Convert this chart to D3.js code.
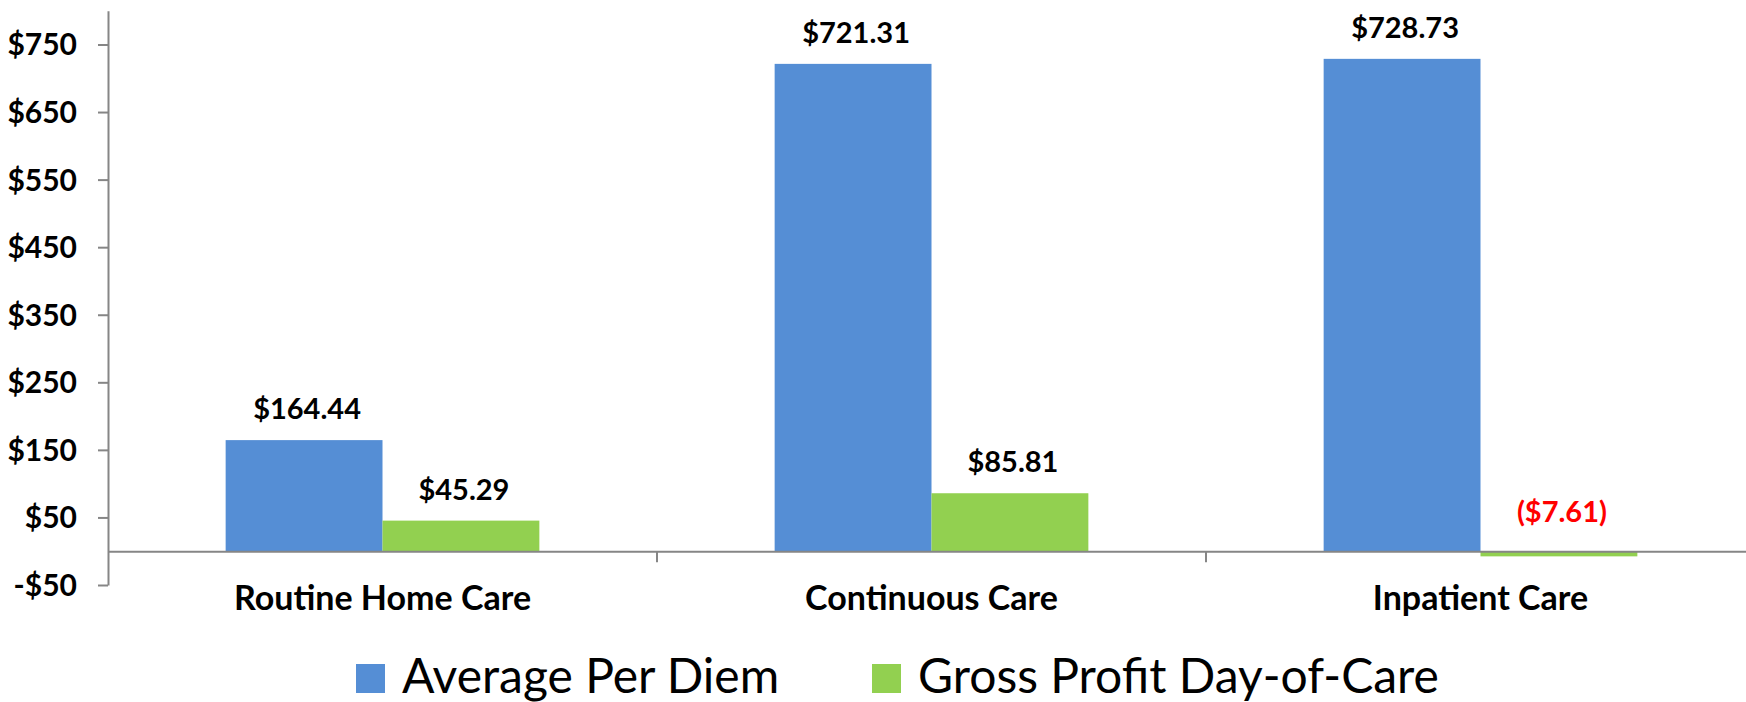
<!DOCTYPE html>
<html>
<head>
<meta charset="utf-8">
<script src="https://cdn.jsdelivr.net/npm/d3@7"></script>
<style>
  body { margin: 0; background: #fff; }
  svg { display: block; font-family: Lato, "Open Sans", sans-serif; }
</style>
</head>
<body>
<div class="svg-div"></div>
<script>
const categories = ["Routine Home Care", "Continuous Care", "Inpatient Care"];
const seriesNames = ["Average Per Diem", "Gross Profit Day-of-Care"];
const avgPerDiem = [164.44, 721.31, 728.73];
const grossProfit = [45.29, 85.81, -7.61];
const yTicks = [-50, 50, 150, 250, 350, 450, 550, 650, 750];
const colors = ["#558ed5", "#92d050"];

let svgWidth = 1746, svgHeight = 702;
let font = "Lato, 'Open Sans', sans-serif";

let svg = d3.select(".svg-div").append("svg")
  .attr("width", svgWidth)
  .attr("height", svgHeight);

// plot area runs a little past the right edge, as in the original
let x = d3.scaleBand()
  .domain(categories)
  .range([108, 1755])
  .paddingInner(0)
  .paddingOuter(0);

let y = d3.scaleLinear()
  .domain([-50, 800])
  .range([585, 10.7]);

let barW = x.bandwidth() / 3.5;

let fmt = function (v) {
  if (v < 0) return "-$" + Math.abs(v);
  return "$" + v;
};
let fmtLabel = function (v) {
  if (v < 0) return "($" + Math.abs(v).toFixed(2) + ")";
  return "$" + v.toFixed(2);
};

// y axis
let yAxis = svg.append("g")
  .attr("class", "y axis")
  .attr("transform", "translate(108,0)")
  .call(d3.axisLeft(y).tickValues(yTicks).tickFormat(fmt).tickSize(10).tickSizeOuter(0).tickPadding(21))
  .attr("font-family", font);

yAxis.select(".domain").attr("stroke", "#868686").attr("stroke-width", 2);
yAxis.selectAll(".tick line").attr("stroke", "#868686").attr("stroke-width", 2);
yAxis.selectAll(".tick text")
  .attr("fill", "#000")
  .style("font-size", "30px")
  .style("font-weight", "bold")
  .attr("dy", "0.35em");

let data = categories.map(function (c, i) {
  return { cat: c, values: [avgPerDiem[i], grossProfit[i]] };
});

let groups = svg.selectAll(".cat")
  .data(data)
  .enter()
  .append("g")
  .attr("class", "cat");

groups.selectAll("rect")
  .data(function (d) { return d.values.map(function (v, j) { return { cat: d.cat, v: v, j: j }; }); })
  .enter()
  .append("rect")
  .attr("x", function (d) { return x(d.cat) + barW * 0.75 + d.j * barW; })
  .attr("y", function (d) { return y(Math.max(0, d.v)); })
  .attr("width", barW)
  .attr("height", function (d) { return Math.abs(y(d.v) - y(0)); })
  .style("fill", function (d) { return colors[d.j]; });

// x axis line at zero with category boundary ticks
let xAxis = svg.append("g")
  .attr("class", "x axis")
  .attr("transform", "translate(0," + y(0) + ")")
  .call(d3.axisBottom(x).tickSize(0).tickSizeOuter(0).tickPadding(49))
  .attr("font-family", font);

xAxis.select(".domain").attr("stroke", "#868686").attr("stroke-width", 2);
xAxis.selectAll(".tick text")
  .attr("fill", "#000")
  .style("font-size", "34px")
  .style("font-weight", "bold")
  .attr("dy", "0.3em");

xAxis.selectAll(".bound")
  .data(categories.slice(1))
  .enter()
  .append("line")
  .attr("class", "bound")
  .attr("x1", function (d) { return x(d); })
  .attr("x2", function (d) { return x(d); })
  .attr("y1", 0)
  .attr("y2", 11)
  .attr("stroke", "#868686")
  .attr("stroke-width", 2);

// value labels
groups.selectAll("text.val")
  .data(function (d) { return d.values.map(function (v, j) { return { cat: d.cat, v: v, j: j }; }); })
  .enter()
  .append("text")
  .attr("class", "val")
  .attr("x", function (d) { return x(d.cat) + barW * 0.75 + d.j * barW + barW / 2 + 3; })
  .attr("y", function (d) { return d.v < 0 ? y(0) - 29 : y(d.v) - 21; })
  .attr("text-anchor", "middle")
  .style("font-size", "29px")
  .style("font-weight", "bold")
  .style("fill", function (d) { return d.v < 0 ? "#ff0000" : "#000"; })
  .text(function (d) { return fmtLabel(d.v); });

// legend
let legendX = [356, 872];
let legend = svg.selectAll(".legend")
  .data(seriesNames)
  .enter()
  .append("g")
  .attr("class", "legend")
  .attr("transform", function (d, i) { return "translate(" + legendX[i] + ",0)"; });

legend.append("rect")
  .attr("x", 0)
  .attr("y", 664)
  .attr("width", 29)
  .attr("height", 29)
  .style("fill", function (d, i) { return colors[i]; });

legend.append("text")
  .attr("x", 46)
  .attr("y", 693)
  .style("font-size", "48px")
  .style("fill", "#000")
  .text(function (d) { return d; });
</script>
</body>
</html>
